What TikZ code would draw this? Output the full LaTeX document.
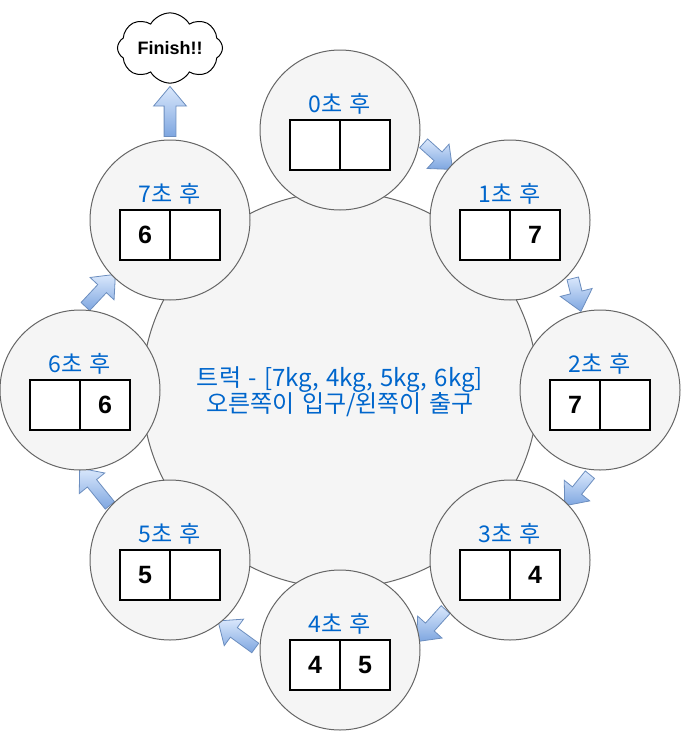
\documentclass[tikz,border=0pt]{standalone}
\usepackage{fontspec}
\setmainfont{Noto Sans CJK KR}[WordSpace=1.4]
\newfontfamily\numfont{Liberation Sans}
\usetikzlibrary{shapes.arrows,shapes.symbols}
\definecolor{circfill}{HTML}{F5F5F5}
\definecolor{circline}{HTML}{666666}
\definecolor{labelblue}{HTML}{0066CC}
\definecolor{arrtop}{HTML}{DAE8FC}
\definecolor{arrbot}{HTML}{7EA6E0}
\definecolor{arrline}{HTML}{6C8EBF}
\begin{document}
\begin{tikzpicture}[x=1pt,y=-1pt,
  bigcirc/.style={circle, draw=circline, fill=circfill, line width=1pt, minimum size=396pt, inner sep=0pt},
  smallcirc/.style={circle, draw=circline, fill=circfill, line width=1pt, minimum size=160pt, inner sep=0pt},
  cell/.style={draw=black, fill=white, line width=1.2pt, minimum size=50pt, inner sep=0pt, font=\numfont\bfseries\fontsize{25}{25}\selectfont},
  steplabel/.style={text=labelblue, font=\fontsize{23}{26}\selectfont, inner sep=0pt, anchor=base},
  trucklabel/.style={text=labelblue, font=\fontsize{24}{26}\selectfont, inner sep=0pt, anchor=base},
  blockarrow/.style={single arrow, draw=arrline, line width=0.8pt, inner xsep=0pt, inner ysep=5.5pt, minimum width=1pt, single arrow head extend=10.5pt, single arrow tip angle=80, minimum height=#1, top color=arrtop, bottom color=arrbot},
  finishcloud/.style={cloud, cloud puffs=8, cloud puff arc=120, aspect=1.7, draw=black, fill=white, line width=1pt, minimum width=105pt, minimum height=68pt, inner sep=0pt, font=\numfont\bfseries\fontsize{18}{18}\selectfont}
]
\useasboundingbox (0,0) rectangle (681,731);
% central truck circle
\node[bigcirc] (truck) at (340,390) {};
\node[trucklabel] (truckA) at (340,386) {트럭 - [7kg, 4kg, 5kg, 6kg]};
\node[trucklabel] (truckB) at (340,412) {오른쪽이 입구/왼쪽이 출구};
% block arrows (behind the small circles)
\node[blockarrow=39, rotate=-42] (a01) at (435.5,154) {};
\node[blockarrow=34, rotate=-76] (a12) at (576,291.5) {};
\node[blockarrow=40, rotate=-129] (a23) at (579.5,487.5) {};
\node[blockarrow=43, rotate=-132] (a34) at (433.5,623) {};
\node[blockarrow=46, rotate=144] (a45) at (239.5,636.5) {};
\node[blockarrow=48, rotate=129] (a56) at (97,489.5) {};
\node[blockarrow=44, rotate=47] (a67) at (98,293) {};
\node[blockarrow=50, rotate=90] (a7f) at (170,115) {};
% finish cloud
\node[finishcloud] (finish) at (170,48) {Finish!!};
% step circles
\foreach \n/\x/\y/\l/\r in {0/340/130//, 1/510/220//7, 2/600/390/7/, 3/510/560//4, 4/340/650/4/5, 5/170/560/5/, 6/80/390//6, 7/170/220/6/}{
  \node[smallcirc] (c\n) at (\x,\y) {};
  \node[cell] (c\n l) at (\x-25,\y+15) {\l};
  \node[cell] (c\n r) at (\x+25,\y+15) {\r};
  \node[steplabel] (c\n t) at (\x,\y-17.5) {{\n}초 후};
}
\end{tikzpicture}
\end{document}
